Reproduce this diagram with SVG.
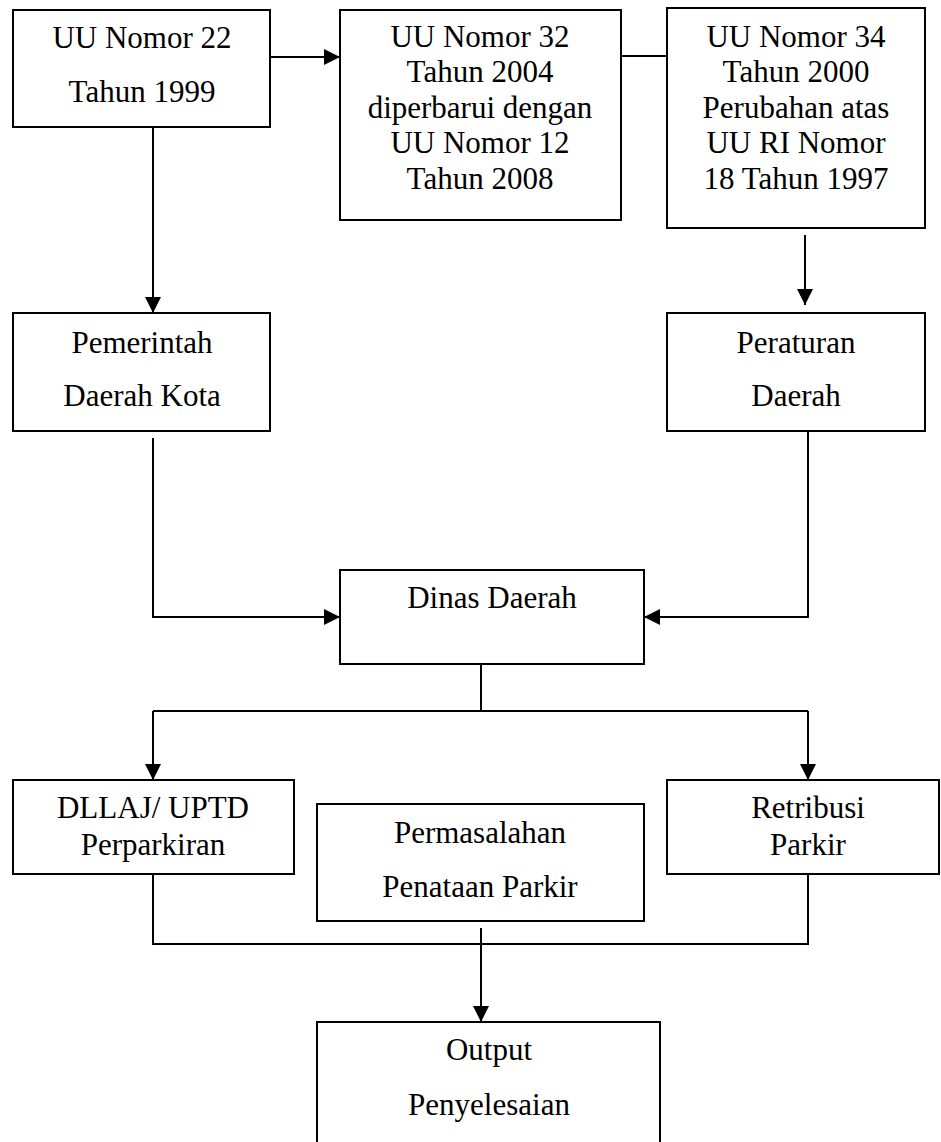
<svg xmlns="http://www.w3.org/2000/svg" width="941" height="1142" viewBox="0 0 941 1142">
<style>
.box{fill:#fff;stroke:#000;stroke-width:2}
.t{font-family:"Liberation Serif","Times New Roman",serif;font-size:31px;fill:#000;text-anchor:middle}
.c{fill:none;stroke:#000;stroke-width:2}
</style>
<defs>
<marker id="ah" markerUnits="userSpaceOnUse" markerWidth="16" markerHeight="16" refX="16" refY="8" orient="auto">
<path d="M0,0 L16,8 L0,16 z" fill="#000"/>
</marker>
</defs>
<rect width="941" height="1142" fill="#fff"/>
<g id="connectors">
<path class="c" d="M270,57 H340" marker-end="url(#ah)"/>
<path class="c" d="M621,56 H667"/>
<path class="c" d="M153,127 V313" marker-end="url(#ah)"/>
<path class="c" d="M805,235 V305" marker-end="url(#ah)"/>
<path class="c" d="M153,438 V617 H340" marker-end="url(#ah)"/>
<path class="c" d="M808,431 V617 H644" marker-end="url(#ah)"/>
<path class="c" d="M481,664 V711"/>
<path class="c" d="M153,711 H808"/>
<path class="c" d="M153,711 V780" marker-end="url(#ah)"/>
<path class="c" d="M808,711 V780" marker-end="url(#ah)"/>
<path class="c" d="M153,874 V944 H808 V874"/>
<path class="c" d="M481,928 V1022" marker-end="url(#ah)"/>
</g>
<g id="n-uu22">
<rect class="box" x="13" y="10" width="257" height="117"/>
<text class="t" x="142" y="48">UU Nomor 22</text>
<text class="t" x="142" y="102">Tahun 1999</text>
</g>
<g id="n-uu32">
<rect class="box" x="340" y="10" width="281" height="210"/>
<text class="t" x="480" y="47">UU Nomor 32</text>
<text class="t" x="480" y="82">Tahun 2004</text>
<text class="t" x="480" y="118">diperbarui dengan</text>
<text class="t" x="480" y="153">UU Nomor 12</text>
<text class="t" x="480" y="189">Tahun 2008</text>
</g>
<g id="n-uu34">
<rect class="box" x="667" y="8" width="258" height="220"/>
<text class="t" x="796" y="47">UU Nomor 34</text>
<text class="t" x="796" y="82">Tahun 2000</text>
<text class="t" x="796" y="118">Perubahan atas</text>
<text class="t" x="796" y="153">UU RI Nomor</text>
<text class="t" x="796" y="189">18 Tahun 1997</text>
</g>
<g id="n-pemerintah">
<rect class="box" x="13" y="313" width="257" height="118"/>
<text class="t" x="142" y="353">Pemerintah</text>
<text class="t" x="142" y="406">Daerah Kota</text>
</g>
<g id="n-perda">
<rect class="box" x="667" y="313" width="258" height="118"/>
<text class="t" x="796" y="353">Peraturan</text>
<text class="t" x="796" y="406">Daerah</text>
</g>
<g id="n-dinas">
<rect class="box" x="340" y="570" width="304" height="94"/>
<text class="t" x="492" y="608">Dinas Daerah</text>
</g>
<g id="n-dllaj">
<rect class="box" x="13" y="780" width="281" height="94"/>
<text class="t" x="153" y="818">DLLAJ/ UPTD</text>
<text class="t" x="153" y="855">Perparkiran</text>
</g>
<g id="n-permasalahan">
<rect class="box" x="317" y="804" width="327" height="117"/>
<text class="t" x="480" y="843">Permasalahan</text>
<text class="t" x="480" y="897">Penataan Parkir</text>
</g>
<g id="n-retribusi">
<rect class="box" x="667" y="780" width="272" height="94"/>
<text class="t" x="808" y="818">Retribusi</text>
<text class="t" x="808" y="855">Parkir</text>
</g>
<g id="n-output">
<rect class="box" x="317" y="1022" width="343" height="140"/>
<text class="t" x="489" y="1060">Output</text>
<text class="t" x="489" y="1115">Penyelesaian</text>
</g>
</svg>
